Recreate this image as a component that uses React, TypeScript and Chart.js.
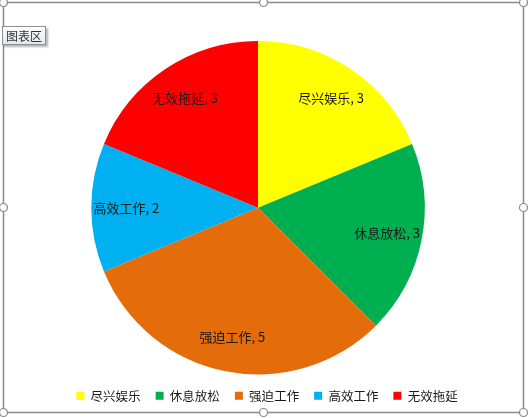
import React, { useEffect, useRef } from "react";
import { Chart, registerables } from "chart.js";

Chart.register(...registerables);

const categories = ["尽兴娱乐", "休息放松", "强迫工作", "高效工作", "无效拖延"];
const values = [3, 3, 5, 2, 3];
const colors = ["#FFFF00", "#00B050", "#E46C0A", "#00B0F0", "#FF0000"];
const labelFont = '13px "Noto Sans CJK SC", "Noto Sans", sans-serif';

const dataLabels = {
  id: "dataLabels",
  afterDatasetsDraw(chart: any) {
    const ctx = chart.ctx;
    const meta = chart.getDatasetMeta(0);
    ctx.save();
    ctx.font = labelFont;
    ctx.fillStyle = "#1a1a1a";
    ctx.textAlign = "center";
    ctx.textBaseline = "middle";
    meta.data.forEach((arc: any, i: number) => {
      const p = arc.getProps(["x", "y", "startAngle", "endAngle", "outerRadius"], true);
      const mid = (p.startAngle + p.endAngle) / 2;
      const d = p.outerRadius * 0.79;
      const x = p.x + Math.cos(mid) * d;
      const y = p.y + Math.sin(mid) * d;
      ctx.fillText(`${categories[i]}, ${values[i]}`, x, y);
    });
    ctx.restore();
  },
};

// nudge the legend block to the right, like the reference's off-centre legend
const legendShift = {
  id: "legendShift",
  afterLayout(chart: any) {
    const lg = chart.legend;
    if (lg) {
      lg.left += 9;
      lg.right += 9;
    }
  },
};

const frame = {
  id: "frame",
  afterDraw(chart: any) {
    const ctx = chart.ctx;
    const w = chart.width;
    const h = chart.height;
    const l = 3.5, t = 2.5, r = w - 4.5, b = h - 5.5;
    ctx.save();
    ctx.strokeStyle = "#8a8a8a";
    ctx.lineWidth = 1.5;
    ctx.strokeRect(l, t, r - l, b - t);
    const pts = [
      [l, t], [(l + r) / 2, t], [r, t],
      [l, (t + b) / 2], [r, (t + b) / 2],
      [l, b], [(l + r) / 2, b], [r, b],
    ];
    pts.forEach(([x, y]) => {
      ctx.beginPath();
      ctx.arc(x, y, 4, 0, Math.PI * 2);
      ctx.fillStyle = "#ffffff";
      ctx.fill();
      ctx.lineWidth = 1.2;
      ctx.strokeStyle = "#8a8a8a";
      ctx.stroke();
    });
    ctx.restore();
  },
};

export default function App() {
  const ref = useRef<HTMLCanvasElement>(null);
  useEffect(() => {
    document.body.style.margin = "0";
    const chart = new Chart(ref.current!, {
      type: "pie",
      data: {
        labels: categories,
        datasets: [
          {
            data: values,
            backgroundColor: colors,
            borderWidth: 0,
          },
        ],
      },
      options: {
        animation: false,
        responsive: false,
        layout: { padding: { top: 41, bottom: 6, left: 0, right: 12 } },
        plugins: {
          tooltip: { enabled: false },
          legend: {
            position: "bottom",
            labels: {
              boxWidth: 8,
              boxHeight: 8,
              padding: 15,
              color: "#1a1a1a",
              font: { family: '"Noto Sans CJK SC", "Noto Sans", sans-serif', size: 12.5 },
            },
          },
        },
      },
      plugins: [dataLabels, legendShift, frame],
    });
    return () => chart.destroy();
  }, []);
  return (
    <div style={{ position: "relative", width: 528, height: 418, background: "#fff" }}>
      <canvas ref={ref} width={528} height={418} style={{ display: "block" }} />
      <div
        style={{
          position: "absolute",
          left: 2,
          top: 26,
          padding: "0 3px",
          height: 17,
          lineHeight: "17px",
          fontSize: 12,
          fontFamily: '"Noto Sans CJK SC", sans-serif',
          color: "#333",
          background: "linear-gradient(#ffffff, #e4e6ee)",
          border: "1px solid #8d8d99",
          boxShadow: "2px 2px 2px rgba(0,0,0,0.3)",
        }}
      >
        图表区
      </div>
    </div>
  );
}
